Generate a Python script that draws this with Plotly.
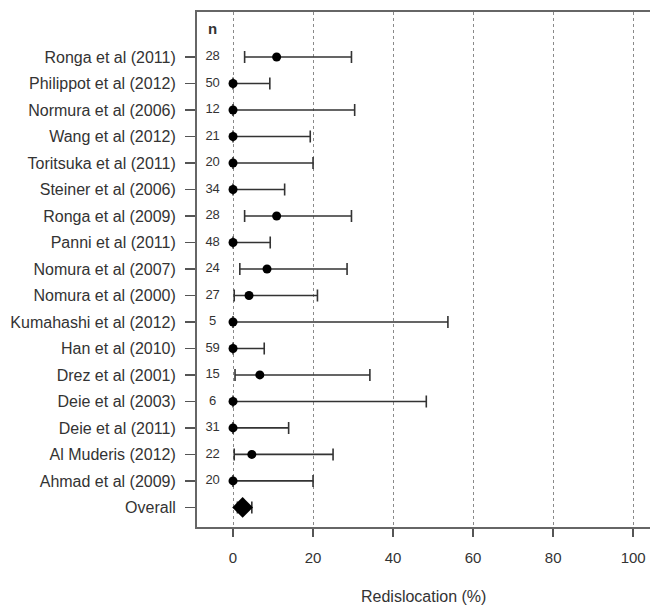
import plotly.graph_objects as go

studies = ["Ronga et al (2011)", "Philippot et al (2012)", "Normura et al (2006)", "Wang et al (2012)",
           "Toritsuka et al (2011)", "Steiner et al (2006)", "Ronga et al (2009)", "Panni et al (2011)",
           "Nomura et al (2007)", "Nomura et al (2000)", "Kumahashi et al (2012)", "Han et al (2010)",
           "Drez et al (2001)", "Deie et al (2003)", "Deie et al (2011)", "Al Muderis (2012)",
           "Ahmad et al (2009)", "Overall"]
n_vals = ["28", "50", "12", "21", "20", "34", "28", "48", "24", "27", "5", "59", "15", "6", "31", "22", "20", ""]
est = [10.9, 0, 0, 0, 0, 0, 10.9, 0, 8.5, 4.0, 0, 0, 6.7, 0, 0, 4.7, 0, 2.4]
lower = [2.9, 0, 0, 0, 0, 0, 2.9, 0, 1.7, 0.3, 0, 0, 0.5, 0, 0, 0.3, 0, 1.1]
upper = [29.6, 9.2, 30.4, 19.3, 20.0, 12.9, 29.6, 9.3, 28.5, 21.1, 53.7, 7.8, 34.2, 48.3, 13.9, 25.0, 20.0, 4.7]
x_ticks = [0, 20, 40, 60, 80, 100]

rows = list(range(len(studies)))
font = "Liberation Sans, Arial, sans-serif"
txt = "#333333"

fig = go.Figure()
# individual studies
fig.add_trace(go.Scatter(
    x=est[:-1], y=rows[:-1], mode="markers",
    marker=dict(symbol="circle", size=9, color="black"),
    error_x=dict(type="data", symmetric=False,
                 array=[u - e for u, e in zip(upper[:-1], est[:-1])],
                 arrayminus=[e - l for e, l in zip(est[:-1], lower[:-1])],
                 color="#333333", thickness=1.6, width=6),
    showlegend=False, hoverinfo="skip"))
# overall
fig.add_trace(go.Scatter(
    x=est[-1:], y=rows[-1:], mode="markers",
    marker=dict(symbol="diamond", size=16, color="black"),
    error_x=dict(type="data", symmetric=False,
                 array=[upper[-1] - est[-1]], arrayminus=[est[-1] - lower[-1]],
                 color="#333333", thickness=1.6, width=6),
    showlegend=False, hoverinfo="skip"))
# n column
fig.add_trace(go.Scatter(
    x=[-5.1] * (len(rows) - 1), y=rows[:-1], mode="text", text=n_vals[:-1],
    textfont=dict(family=font, size=13, color=txt), textposition="middle center",
    showlegend=False, hoverinfo="skip"))
fig.add_trace(go.Scatter(
    x=[-5.1], y=[-1], mode="text", text=["<b>n</b>"],
    textfont=dict(family=font, size=15, color=txt), textposition="middle center",
    showlegend=False, hoverinfo="skip"))

fig.update_xaxes(
    range=[-9, 104.2], tickmode="array", tickvals=x_ticks, ticktext=[str(t) for t in x_ticks],
    showgrid=True, gridcolor="#8a8a8a", griddash="dot", gridwidth=1, zeroline=False,
    showline=True, linecolor="#666666", linewidth=2, mirror=True,
    ticks="outside", ticklen=8, tickcolor="#555555", tickwidth=1.5,
    ticklabelstandoff=8, automargin=False,
    tickfont=dict(family=font, size=15, color=txt))
fig.update_yaxes(
    range=[17.74, -1.70], tickmode="array", tickvals=rows, ticktext=studies,
    showgrid=False, zeroline=False,
    showline=True, linecolor="#666666", linewidth=2, mirror=False,
    ticks="outside", ticklen=10, tickcolor="#555555", tickwidth=1.5,
    ticklabelstandoff=6, automargin=False,
    tickfont=dict(family=font, size=16, color=txt))
fig.add_annotation(
    text="Redislocation (%)", xref="paper", yref="paper", x=0.5, y=-0.134,
    xanchor="center", yanchor="middle", showarrow=False,
    font=dict(family=font, size=16, color=txt))
fig.update_layout(
    width=650, height=605, margin=dict(l=197, r=0, t=12, b=78, autoexpand=False),
    plot_bgcolor="white", paper_bgcolor="white")
fig.write_html("out.html", config={"displayModeBar": False, "staticPlot": True},
               post_script="document.body.style.margin='0';document.body.style.overflow='hidden';")
